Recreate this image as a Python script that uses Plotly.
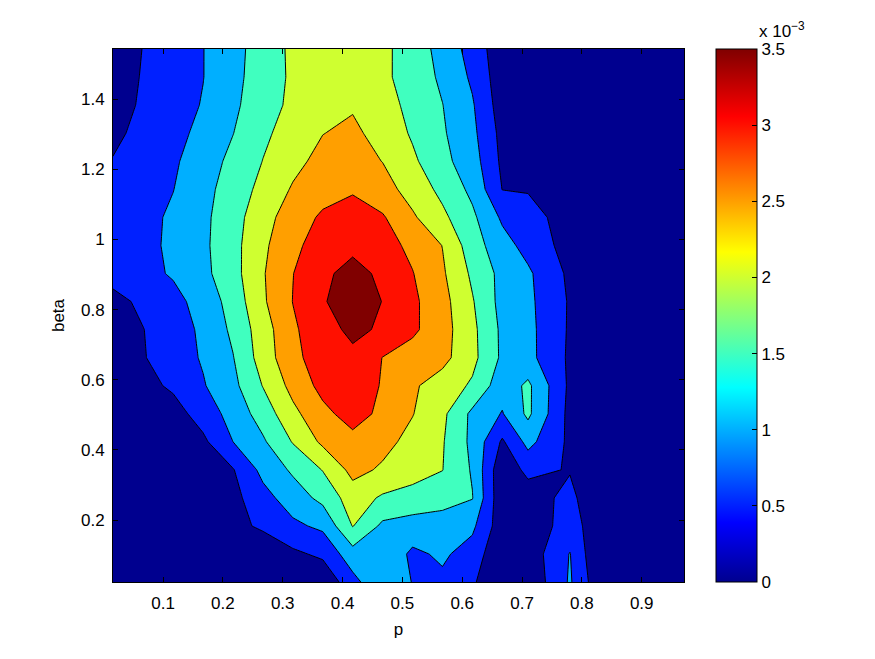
import plotly.graph_objects as go

# grid (p along x, beta along y)
p = [0.016, 0.067, 0.117, 0.167, 0.217, 0.267, 0.317, 0.367, 0.417, 0.467,
     0.517, 0.567, 0.617, 0.667, 0.710, 0.780, 0.817, 0.867, 0.917, 0.971]
beta = [0.023, 0.103, 0.183, 0.263, 0.343, 0.423, 0.503, 0.583, 0.663, 0.743,
        0.823, 0.903, 0.983, 1.063, 1.143, 1.223, 1.303, 1.383, 1.463, 1.543]

# values in units of 1e-3, one row per beta value (bottom to top)
r00 = [0.05, 0.05, 0.05, 0.05, 0.05, 0.05, 0.08, 0.10, 0.83, 1.45, 0.98, 0.90, 0.53, 0.30, 0.10, 1.06, 0.39, 0.10, 0.05, 0.05]
r01 = [0.05, 0.05, 0.05, 0.05, 0.08, 0.20, 0.40, 0.60, 1.30, 1.40, 0.90, 1.08, 0.79, 0.05, 0.20, 1.02, 0.28, 0.10, 0.05, 0.05]
r02 = [0.05, 0.10, 0.15, 0.25, 0.38, 0.57, 0.90, 1.10, 2.02, 1.40, 1.30, 1.25, 1.10, 0.20, 0.20, 0.71, 0.34, 0.10, 0.05, 0.05]
r03 = [0.05, 0.10, 0.20, 0.30, 0.35, 0.83, 1.24, 1.64, 2.25, 1.93, 1.80, 1.70, 1.52, 0.10, 0.20, 0.68, 0.12, 0.05, 0.05, 0.05]
r04 = [0.05, 0.10, 0.20, 0.30, 0.47, 1.14, 1.58, 2.02, 2.65, 2.43, 2.22, 2.01, 1.45, 0.10, 0.65, 0.46, 0.20, 0.05, 0.05, 0.05]
r05 = [0.10, 0.15, 0.25, 0.40, 1.00, 1.43, 2.03, 2.60, 2.85, 2.65, 2.35, 2.04, 1.38, 0.43, 1.15, 0.40, 0.15, 0.05, 0.05, 0.05]
r06 = [0.15, 0.25, 0.30, 0.71, 1.19, 1.72, 2.37, 2.87, 3.20, 2.89, 2.52, 2.11, 1.39, 0.97, 1.60, 0.35, 0.15, 0.05, 0.05, 0.05]
r07 = [0.20, 0.35, 0.58, 0.96, 1.37, 2.02, 2.66, 3.15, 3.30, 2.96, 2.57, 2.27, 1.93, 1.20, 1.60, 0.40, 0.15, 0.05, 0.05, 0.05]
r08 = [0.30, 0.47, 0.75, 1.05, 1.48, 2.23, 2.87, 3.25, 3.40, 2.99, 2.79, 2.65, 2.14, 1.41, 1.15, 0.42, 0.15, 0.05, 0.05, 0.05]
r09 = [0.30, 0.49, 0.77, 1.09, 1.60, 2.27, 2.92, 3.33, 3.60, 3.44, 3.09, 2.70, 2.12, 1.40, 1.14, 0.44, 0.15, 0.05, 0.05, 0.05]
r10 = [0.35, 0.60, 0.85, 1.19, 1.70, 2.43, 3.01, 3.46, 3.75, 3.49, 3.10, 2.67, 2.04, 1.33, 1.11, 0.45, 0.15, 0.05, 0.05, 0.05]
r11 = [0.68, 0.86, 1.05, 1.37, 1.82, 2.46, 2.99, 3.38, 3.70, 3.38, 3.02, 2.57, 1.91, 1.35, 1.08, 0.40, 0.15, 0.05, 0.05, 0.05]
r12 = [0.75, 0.87, 1.09, 1.40, 1.84, 2.40, 2.90, 3.20, 3.36, 3.20, 2.88, 2.49, 1.73, 1.19, 0.83, 0.30, 0.10, 0.05, 0.05, 0.05]
r13 = [0.70, 0.85, 1.08, 1.39, 1.80, 2.32, 2.74, 3.08, 3.20, 3.05, 2.57, 2.11, 1.60, 0.92, 0.67, 0.30, 0.10, 0.05, 0.05, 0.05]
r14 = [0.62, 0.81, 0.99, 1.34, 1.73, 2.14, 2.55, 2.80, 2.95, 2.70, 2.30, 1.87, 1.38, 0.49, 0.47, 0.25, 0.10, 0.05, 0.05, 0.05]
r15 = [0.52, 0.73, 0.93, 1.25, 1.63, 2.01, 2.36, 2.65, 2.70, 2.49, 2.09, 1.64, 1.22, 0.40, 0.25, 0.15, 0.10, 0.05, 0.05, 0.05]
r16 = [0.40, 0.63, 0.85, 1.13, 1.49, 1.91, 2.20, 2.49, 2.60, 2.32, 1.94, 1.56, 1.12, 0.35, 0.20, 0.10, 0.05, 0.05, 0.05, 0.05]
r17 = [0.32, 0.56, 0.79, 1.03, 1.40, 1.80, 2.10, 2.30, 2.45, 2.20, 1.86, 1.51, 1.05, 0.25, 0.15, 0.10, 0.05, 0.05, 0.05, 0.05]
r18 = [0.30, 0.53, 0.76, 0.99, 1.36, 1.74, 2.08, 2.22, 2.30, 2.10, 1.79, 1.41, 0.92, 0.20, 0.10, 0.05, 0.05, 0.05, 0.05, 0.05]
r19 = [0.28, 0.51, 0.75, 0.99, 1.34, 1.72, 2.10, 2.22, 2.28, 2.12, 1.75, 1.34, 0.80, 0.18, 0.10, 0.05, 0.05, 0.05, 0.05, 0.05]
z_e3 = [r00, r01, r02, r03, r04, r05, r06, r07, r08, r09,
        r10, r11, r12, r13, r14, r15, r16, r17, r18, r19]

cbar_ticks = [0, 0.5, 1, 1.5, 2, 2.5, 3, 3.5]
cbar_text = ["0", "0.5", "1", "1.5", "2", "2.5", "3", "3.5"]
x_ticks = [0.1, 0.2, 0.3, 0.4, 0.5, 0.6, 0.7, 0.8, 0.9]
y_ticks = [0.2, 0.4, 0.6, 0.8, 1.0, 1.2, 1.4]
y_ticktext = ["0.2", "0.4", "0.6", "0.8", "1", "1.2", "1.4"]

# MATLAB jet(64) colormap
def jet64():
    cols = []
    for i in range(1, 65):
        def seg(c):
            return max(0.0, min(1.0, c))
        b = seg((i + 8) / 16.0) if i <= 8 else (1.0 if i <= 24 else seg((40 - i) / 16.0))
        g = 0.0 if i <= 8 else (seg((i - 8) / 16.0) if i <= 24 else (1.0 if i <= 40 else seg((56 - i) / 16.0)))
        r = 0.0 if i <= 24 else (seg((i - 24) / 16.0) if i <= 40 else (1.0 if i <= 56 else seg((72 - i) / 16.0)))
        cols.append("rgb(%d,%d,%d)" % (round(r * 255), round(g * 255), round(b * 255)))
    return cols

jet = jet64()
jet_scale = [[k / 63.0, c] for k, c in enumerate(jet)]
band_idx = [0, 9, 18, 27, 36, 45, 54, 63]
band_scale = [[k / 7.0, jet[i]] for k, i in enumerate(band_idx)]

font_family = "Liberation Sans, Arial, Helvetica, sans-serif"
fs = 17

fig = go.Figure()
fig.add_trace(go.Contour(
    x=p, y=beta, z=z_e3,
    autocontour=False,
    contours=dict(start=0.5, end=3.5, size=0.5, coloring="fill", showlines=True),
    line=dict(color="black", width=1, smoothing=0),
    colorscale=band_scale,
    showscale=False,
    hoverinfo="skip",
))
# dummy trace carrying the continuous colorbar
fig.add_trace(go.Scatter(
    x=[0.5], y=[0.5], mode="markers",
    marker=dict(size=0, opacity=0, color=[0], cmin=0, cmax=3.5,
                colorscale=jet_scale, showscale=True,
                colorbar=dict(
                    x=(716 - 113) / 571.0, xanchor="left", xpad=0,
                    y=0, yanchor="bottom", len=1, lenmode="fraction", ypad=0,
                    thickness=41, thicknessmode="pixels",
                    outlinewidth=1, outlinecolor="black",
                    tickmode="array", tickvals=cbar_ticks, ticktext=cbar_text,
                    ticks="inside", ticklen=5, tickcolor="black",
                    tickfont=dict(family=font_family, size=fs, color="black"),
                )),
    hoverinfo="skip", showlegend=False,
))

fig.add_annotation(
    text="x 10<sup>−3</sup>", xref="paper", yref="paper",
    x=(757 - 113) / 571.0, y=(582 - 43) / 533.0, xanchor="left", yanchor="bottom",
    showarrow=False, font=dict(family=font_family, size=fs, color="black"),
)

axis_common = dict(
    showline=True, linecolor="black", linewidth=1, mirror="allticks",
    ticks="inside", ticklen=5, tickcolor="black", showgrid=False, zeroline=False,
    tickfont=dict(family=font_family, size=fs, color="black"),
)
fig.update_xaxes(range=[0.0164, 0.9707], tickmode="array", tickvals=x_ticks,
                 ticktext=[str(v) for v in x_ticks], ticklabelstandoff=6,
                 title=dict(text="p", font=dict(family=font_family, size=fs, color="black"), standoff=10),
                 **axis_common)
fig.update_yaxes(range=[0.0233, 1.543], tickmode="array", tickvals=y_ticks,
                 ticktext=y_ticktext, ticklabelstandoff=4,
                 title=dict(text="beta", font=dict(family=font_family, size=fs, color="black"), standoff=12),
                 **axis_common)

fig.update_layout(
    width=875, height=659,
    margin=dict(l=113, r=191, t=49, b=77),
    paper_bgcolor="white", plot_bgcolor="white",
    showlegend=False,
)

fig.write_html("out.html")
